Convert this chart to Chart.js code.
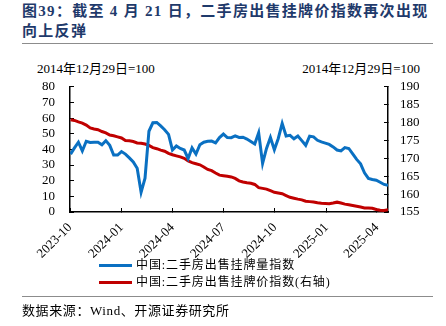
<!DOCTYPE html>
<html>
<head>
<meta charset="utf-8">
<script src="https://cdn.jsdelivr.net/npm/chart.js@4/dist/chart.umd.min.js"></script>
<style>
  body { margin: 0; background: #fff; }
  #wrap { position: relative; width: 446px; height: 326px; overflow: hidden;
          font-family: "Liberation Serif", "Noto Sans CJK SC", serif; color: #000; }
  #title { position: absolute; left: 22px; top: 1px; width: 420px; font-size: 15px; font-weight: bold;
           line-height: 20px; color: #1f3a6b; letter-spacing: 1.3px; white-space: nowrap; }
  .rule { position: absolute; left: 22px; width: 411px; border-top: 1.5px solid #8c8c8c; }
  .axnote { position: absolute; top: 61px; font-size: 13px; line-height: 16px; white-space: nowrap; }
  #chartBox { position: absolute; left: 0; top: 60px; width: 446px; height: 198px; }
  .leg { position: absolute; left: 99px; font-size: 12px; letter-spacing: 0.9px; line-height: 14px; white-space: nowrap; }
  .leg i { display: inline-block; width: 33px; height: 3px; vertical-align: middle; margin-right: 4px; position: relative; top: -1px; }
  #src { position: absolute; left: 22px; top: 303px; font-size: 13px; line-height: 16px; letter-spacing: 0.6px; white-space: nowrap; }
</style>
</head>
<body>
<div id="wrap">
  <div id="title">图39：截至 4 月 21 日，二手房出售挂牌价指数再次出现<br>向上反弹</div>
  <div class="rule" style="top:43px"></div>
  <div class="axnote" style="left:37px">2014年12月29日=100</div>
  <div class="axnote" style="right:26px">2014年12月29日=100</div>
  <div id="chartBox"><canvas id="c" width="446" height="198"></canvas></div>
  <div class="leg" style="top:258px"><i style="background:#0a70c2"></i>中国:二手房出售挂牌量指数</div>
  <div class="leg" style="top:275px"><i style="background:#c00000"></i>中国:二手房出售挂牌价指数(右轴)</div>
  <div class="rule" style="top:296px"></div>
  <div id="src">数据来源：Wind、开源证券研究所</div>
</div>
<script>
// weekly observations
const weeks = [
  "2023-10-02","2023-10-09","2023-10-16","2023-10-23","2023-10-30",
  "2023-11-06","2023-11-13","2023-11-20","2023-11-27",
  "2023-12-04","2023-12-11","2023-12-18","2023-12-25",
  "2024-01-01","2024-01-08","2024-01-15","2024-01-22","2024-01-29",
  "2024-02-05","2024-02-12","2024-02-19","2024-02-26",
  "2024-03-04","2024-03-11","2024-03-18","2024-03-25",
  "2024-04-01","2024-04-08","2024-04-15","2024-04-22","2024-04-29",
  "2024-05-06","2024-05-13","2024-05-20","2024-05-27",
  "2024-06-03","2024-06-10","2024-06-17","2024-06-24",
  "2024-07-01","2024-07-08","2024-07-15","2024-07-22","2024-07-29",
  "2024-08-05","2024-08-12","2024-08-19","2024-08-26",
  "2024-09-02","2024-09-09","2024-09-16","2024-09-23","2024-09-30",
  "2024-10-07","2024-10-14","2024-10-21","2024-10-28",
  "2024-11-04","2024-11-11","2024-11-18","2024-11-25",
  "2024-12-02","2024-12-09","2024-12-16","2024-12-23","2024-12-30",
  "2025-01-06","2025-01-13","2025-01-20","2025-01-27",
  "2025-02-03","2025-02-10","2025-02-17","2025-02-24",
  "2025-03-03","2025-03-10","2025-03-17","2025-03-24","2025-03-31",
  "2025-04-07","2025-04-14","2025-04-21"
];

// 挂牌量指数 (left axis)
const listingVolume = [
  37, 41, 44.6, 39, 45.2, 44.4, 44.6, 44.6, 43, 45.6,
  42.6, 36.4, 36.4, 38.6, 37, 34.6, 32, 28, 12.6, 21.6,
  51.6, 57, 57.2, 55, 52.6, 49.6, 39.6, 42.2, 40.6, 39.6,
  34.2, 41, 37, 43, 44.6, 45.2, 45.3, 44.2, 47.6, 49.8,
  47.6, 47.5, 48.6, 47.6, 47.8, 46.6, 45, 43.4, 50.6, 31,
  40.6, 47.6, 39.8, 47, 56.6, 48.6, 49, 46.8, 48.6, 45.6,
  42.6, 48.4, 48, 45.8, 44.8, 44, 43.2, 41.6, 39.6, 39,
  41.2, 40.6, 37.2, 33.6, 30.8, 25, 21.5, 20.8, 20.3, 19,
  17.6, 17
];

// 挂牌价指数 (right axis)
const listingPrice = [
  180.8, 180.6, 180.2, 179.85, 179.3, 178.5, 178.2, 178.0, 177.5, 177.1,
  176.5, 176.3, 176.0, 175.7, 175.0, 174.9, 174.7, 174.3, 174.2, 174.0,
  173.6, 173.0, 172.7, 172.3, 172.0, 171.4, 171.0, 170.7, 170.4, 170.0,
  169.3, 168.8, 168.5, 168.2, 167.6, 166.9, 166.55, 165.9, 165.3, 165.15,
  165.0, 164.8, 164.4, 163.7, 163.4, 163.2, 163.05, 162.7, 161.8, 161.6,
  161.4, 160.95, 160.5, 160.3, 160.1, 159.6, 159.1, 158.85, 158.6, 158.4,
  158.0, 157.9, 157.8, 157.6, 157.45, 157.4, 157.3, 157.5, 157.75, 157.5,
  157.2, 157.0, 156.8, 156.6, 156.4, 156.15, 156.15, 156.05, 155.7, 155.5,
  155.45, 155.6
];

const xTickLabels = ["2023-10", "2024-01", "2024-04", "2024-07", "2024-10", "2025-01", "2025-04"];

const startDay = Date.parse("2023-10-01");
const dayOf = s => Math.round((Date.parse(s) - startDay) / 864e5);
const xTicks = xTickLabels.map(m => dayOf(m + "-01"));

const serif = "'Liberation Serif', 'Noto Sans CJK SC', serif";

new Chart(document.getElementById("c"), {
  type: "line",
  data: {
    datasets: [
      {
        label: "中国:二手房出售挂牌量指数",
        data: weeks.map((w, i) => ({ x: dayOf(w), y: listingVolume[i] })),
        borderColor: "#0a70c2",
        borderWidth: 3,
        pointRadius: 0,
        tension: 0,
        yAxisID: "y"
      },
      {
        label: "中国:二手房出售挂牌价指数(右轴)",
        data: weeks.map((w, i) => ({ x: dayOf(w), y: listingPrice[i] })),
        borderColor: "#c00000",
        borderWidth: 3,
        pointRadius: 0,
        tension: 0,
        yAxisID: "y1"
      }
    ]
  },
  options: {
    responsive: false,
    animation: false,
    layout: { padding: { top: 19, left: 0, right: 0, bottom: 0 } },
    plugins: { legend: { display: false }, tooltip: { enabled: false } },
    scales: {
      x: {
        type: "linear",
        min: 0,
        max: dayOf("2025-04-21"),
        afterBuildTicks: s => { s.ticks = xTicks.map(v => ({ value: v })); },
        afterFit: s => { s.height = 46; },
        border: { color: "#000", width: 1.5 },
        grid: { drawOnChartArea: false, tickLength: -4, color: "#000", lineWidth: 1 },
        ticks: {
          autoSkip: false,
          maxRotation: 45,
          minRotation: 45,
          padding: 12,
          color: "#000",
          font: { family: serif, size: 13 },
          callback: v => xTickLabels[xTicks.indexOf(v)]
        }
      },
      y: {
        position: "left",
        min: 0,
        max: 80,
        afterFit: s => { s.width = 70; },
        border: { color: "#000", width: 1.5 },
        grid: { drawOnChartArea: false, tickLength: -4, color: "#000", lineWidth: 1 },
        ticks: { autoSkip: false, stepSize: 10, padding: 19, color: "#000", font: { family: serif, size: 13 } }
      },
      y1: {
        position: "right",
        min: 155,
        max: 190,
        afterFit: s => { s.width = 58; },
        border: { color: "#000", width: 1.5 },
        grid: { drawOnChartArea: false, tickLength: -4, color: "#000", lineWidth: 1 },
        ticks: { autoSkip: false, stepSize: 5, padding: 16, color: "#000", font: { family: serif, size: 13 } }
      }
    }
  }
});
</script>
</body>
</html>
